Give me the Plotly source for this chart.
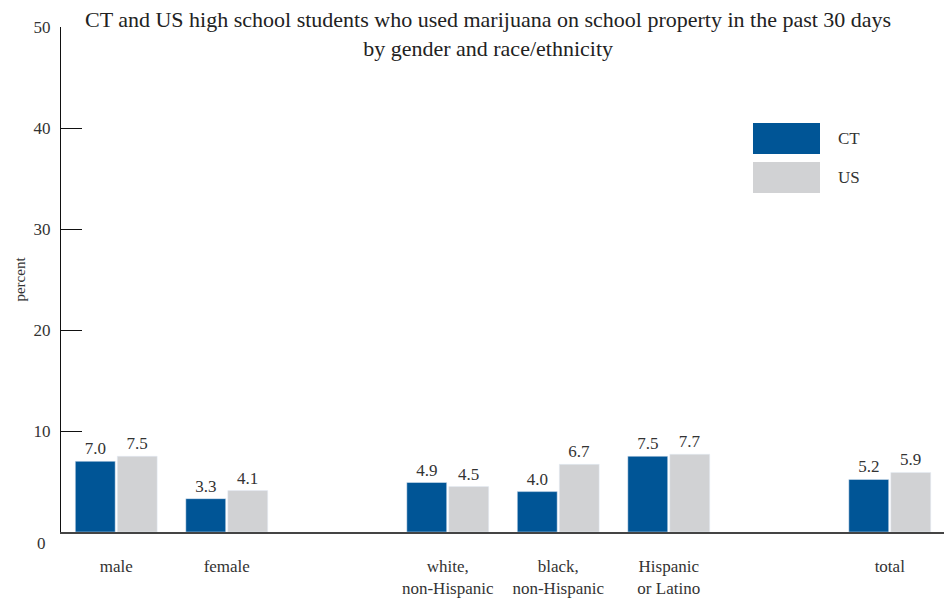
import plotly.graph_objects as go

categories = ["male", "female", "white,<br>non-Hispanic", "black,<br>non-Hispanic", "Hispanic<br>or Latino", "total"]
slots = [0, 1, 3, 4, 5, 7]
ct_values = [7.0, 3.3, 4.9, 4.0, 7.5, 5.2]
us_values = [7.5, 4.1, 4.5, 6.7, 7.7, 5.9]
y_ticks = [10, 20, 30, 40, 50]

CT_COLOR = "#005596"
US_COLOR = "#d1d2d4"
FONT = "Liberation Serif, Times New Roman, serif"
TXT = "#333333"

fig = go.Figure()
fig.add_trace(go.Bar(x=slots, y=ct_values, name="CT", marker_color=CT_COLOR,
                     text=[f"{v:.1f}" for v in ct_values], textposition="outside",
                     textfont=dict(family=FONT, size=17, color=TXT), cliponaxis=False))
fig.add_trace(go.Bar(x=slots, y=us_values, name="US", marker_color=US_COLOR,
                     text=[f"{v:.1f}" for v in us_values], textposition="outside",
                     textfont=dict(family=FONT, size=17, color=TXT), cliponaxis=False))

fig.update_layout(
    width=944, height=592,
    margin=dict(l=53, r=7, t=19, b=68, autoexpand=False),
    plot_bgcolor="white", paper_bgcolor="white",
    barmode="group", bargap=0.24, bargroupgap=0.05,
    showlegend=False,
    font=dict(family=FONT, size=16, color=TXT),
    xaxis=dict(range=[-0.5, 7.5], tickvals=slots, ticktext=categories, showline=True,
               linecolor="#444444", linewidth=1.5, ticks="", showgrid=False, zeroline=False,
               automargin=False, ticklabelstandoff=18,
               tickfont=dict(family=FONT, size=17, color=TXT)),
    yaxis=dict(range=[0, 50], tickvals=y_ticks, showline=True, linecolor="#111111", linewidth=1.2,
               ticks="inside", ticklen=21, tickcolor="#111111", tickwidth=1.2, showgrid=False,
               zeroline=False, automargin=False, ticklabelstandoff=6,
               tickfont=dict(family=FONT, size=17, color=TXT),
               title=dict(text="percent", font=dict(family=FONT, size=15, color=TXT), standoff=4)),
)

# Title as annotation (two lines)
fig.add_annotation(text="CT and US high school students who used marijuana on school property in the past 30 days<br>by gender and race/ethnicity",
                   xref="paper", yref="paper", x=0.483, y=1.044, xanchor="center", yanchor="top",
                   showarrow=False, align="center",
                   font=dict(family=FONT, size=22, color="#222222"))

# "0" label sits slightly below the baseline
fig.add_annotation(text="0", xref="paper", yref="y", x=0, y=0, xshift=-13, yshift=-11,
                   xanchor="right", yanchor="middle", showarrow=False,
                   font=dict(family=FONT, size=17, color=TXT))

# Legend drawn as large swatches
legend_items = [("CT", CT_COLOR, 0.7485, 0.8099), ("US", US_COLOR, 0.6713, 0.7327)]
for name, color, y0, y1 in legend_items:
    fig.add_shape(type="rect", xref="paper", yref="paper", x0=0.7828, x1=0.8586,
                  y0=y0, y1=y1, fillcolor=color, line=dict(width=0))
    fig.add_annotation(text=name, xref="paper", yref="paper", x=0.8767, y=(y0 + y1) / 2,
                       xanchor="left", yanchor="middle", showarrow=False,
                       font=dict(family=FONT, size=17, color=TXT))

fig.write_html("out.html")
